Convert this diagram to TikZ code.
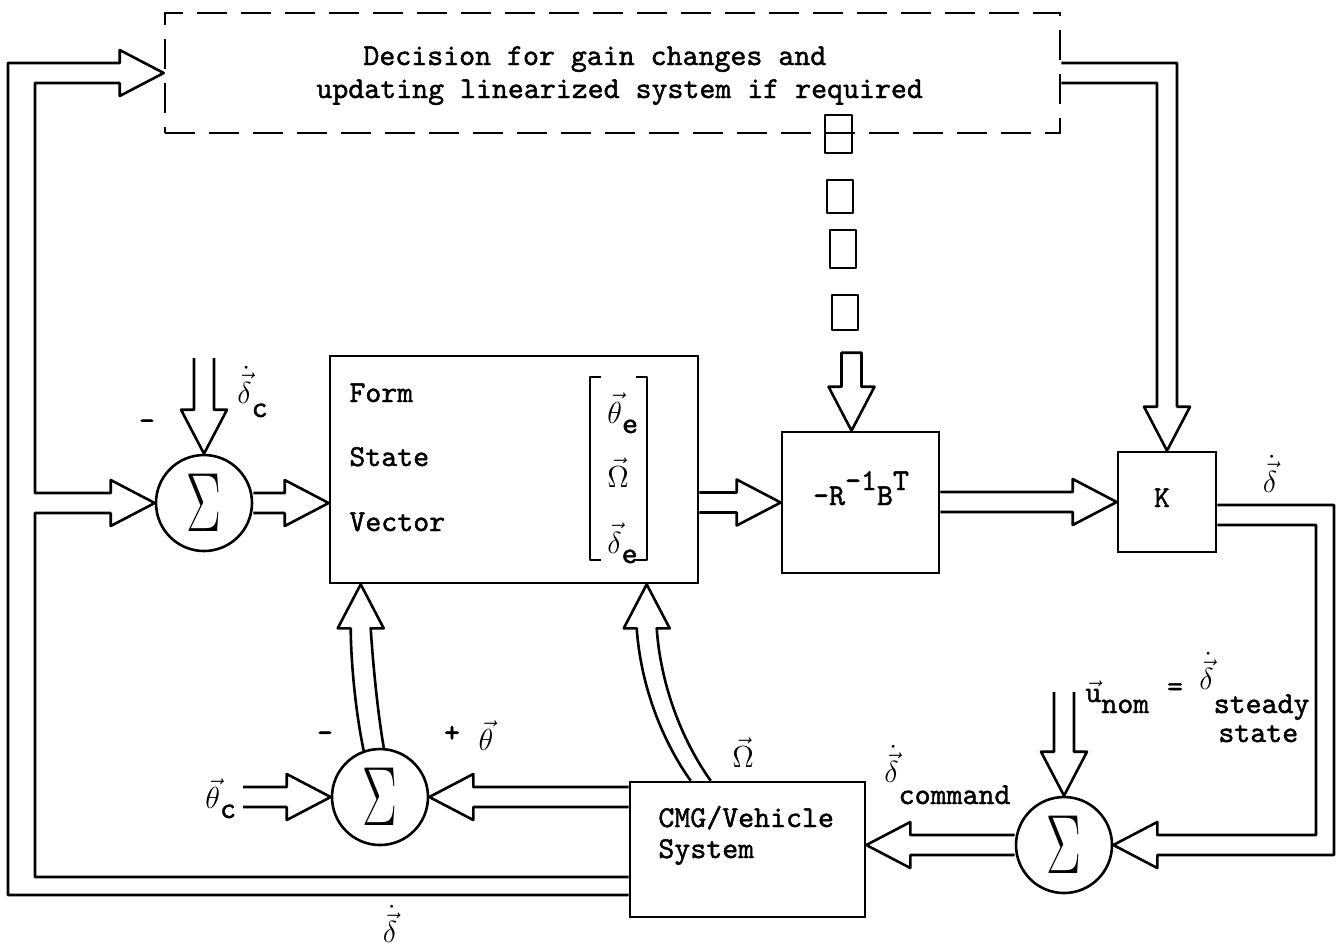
\RequirePackage{fix-cm}
\documentclass[tikz,border=0pt]{standalone}
\usepackage{amsmath}
\usepackage{graphicx}
\usepackage[no-math]{fontspec}
\newfontfamily\tw{lmmono10-regular.otf}[FakeBold=1.4]
\usetikzlibrary{calc,fit}
\newcommand\dSW{10}
\newcommand\dHW{23}
\newcommand\dHL{44}
% hollow double arrows: #1 start reference, #2 tip
\newcommand\arR[2]{\draw[wall] ($(#1|-#2)+(0,-\dSW)$) -- ($(#2)+(-\dHL,-\dSW)$) -- ($(#2)+(-\dHL,-\dHW)$) -- (#2) -- ($(#2)+(-\dHL,\dHW)$) -- ($(#2)+(-\dHL,\dSW)$) -- ($(#1|-#2)+(0,\dSW)$);}
\newcommand\arL[2]{\draw[wall] ($(#1|-#2)+(0,-\dSW)$) -- ($(#2)+(\dHL,-\dSW)$) -- ($(#2)+(\dHL,-\dHW)$) -- (#2) -- ($(#2)+(\dHL,\dHW)$) -- ($(#2)+(\dHL,\dSW)$) -- ($(#1|-#2)+(0,\dSW)$);}
\newcommand\arD[2]{\draw[wall] ($(#2|-#1)+(-\dSW,0)$) -- ($(#2)+(-\dSW,-\dHL)$) -- ($(#2)+(-\dHW,-\dHL)$) -- (#2) -- ($(#2)+(\dHW,-\dHL)$) -- ($(#2)+(\dSW,-\dHL)$) -- ($(#2|-#1)+(\dSW,0)$);}
\begin{document}
\begin{tikzpicture}[x=0.5pt,y=-0.5pt,
  wall/.style={line width=1.3pt,line join=round},
  box/.style={draw,rectangle,line width=1.3pt,inner sep=0pt},
  sumj/.style={draw,circle,line width=1.3pt,minimum size=48pt,inner sep=0pt,font=\fontsize{42}{42}\selectfont},
  every node/.append style={font=\fontsize{15.2}{18}\selectfont\tw},
  lbl/.style={inner sep=0pt}]
\useasboundingbox (0,0) rectangle (1336,950);

% blocks
\node[box,dash pattern=on 15pt off 7pt,fit={(165,13)(1060,133)}] (dec) {};
\node[box,fit={(330,356)(698,583)}] (form) {};
\node[box,fit={(782,432)(939,573)}] (r) {};
\node[box,fit={(1118,452)(1216,552)}] (k) {};
\node[box,fit={(630,782)(865,917)}] (cmg) {};
\node[sumj] (s1) at (204,503) {\scalebox{0.62}[1]{$\Sigma$}};
\node[sumj] (s2) at (380,797) {\scalebox{0.62}[1]{$\Sigma$}};
\node[sumj] (s3) at (1064,845) {\scalebox{0.62}[1]{$\Sigma$}};

% texts
\node[lbl,anchor=base west] (dec1) at (363,65) {Decision for gain changes and};
\node[lbl,anchor=base west] (dec2) at (316,98) {updating linearized system if required};
\node[lbl,anchor=base west] (f1) at (349,402) {Form};
\node[lbl,anchor=base west] (f2) at (349,466) {State};
\node[lbl,anchor=base west] (f3) at (349,531) {Vector};
\node[lbl,anchor=base west] (m1) at (607,423) {$\vec{\theta}$\raisebox{-5pt}{e}};
\node[lbl,anchor=base west] (m2) at (607,487) {$\vec{\Omega}$};
\node[lbl,anchor=base west] (m3) at (607,553) {$\vec{\delta}$\raisebox{-5pt}{e}};
\draw[wall] (601,377) -- (590,377) -- (590,560) -- (601,560);
\draw[wall] (636,377) -- (647,377) -- (647,560) -- (636,560);
\node[lbl,anchor=base] (rt) at (861,505) {-R\raisebox{7.5pt}{-1}B\raisebox{7.5pt}{T}};
\node[lbl,anchor=base] (kt) at (1162,507) {K};
\node[lbl,anchor=base west] (ct1) at (658,827) {CMG/Vehicle};
\node[lbl,anchor=base west] (ct2) at (658,858) {System};

% labels
\node[lbl,anchor=base west] (ldc) at (237,403) {$\dot{\vec{\delta}}$\raisebox{-7pt}{c}};
\node[lbl,anchor=base] (mn1) at (147,430) {-};
\node[lbl,anchor=base] (mn2) at (325,742) {-};
\node[lbl,anchor=base] (pl) at (452,742) {+};
\node[lbl,anchor=base] (lth) at (486,750) {$\vec{\theta}$};
\node[lbl,anchor=base west] (ltc) at (205,808) {$\vec{\theta}$\raisebox{-5pt}{c}};
\node[lbl,anchor=base] (lom) at (743,767) {$\vec{\Omega}$};
\node[lbl,anchor=base] (ldb) at (390,942) {$\dot{\vec{\delta}}$};
\node[lbl,anchor=base] (ldk) at (1270,492) {$\dot{\vec{\delta}}$};
\node[lbl,anchor=base west] (ldcm) at (884,782) {$\dot{\vec{\delta}}$\raisebox{-11pt}{command}};
\node[lbl,anchor=base west] (lun) at (1085,702) {$\vec{\hbox{u}}$\raisebox{-5.5pt}{nom}};
\node[lbl,anchor=base] (leq) at (1175,696) {=};
\node[lbl,anchor=base west] (lss) at (1199,689) {$\dot{\vec{\delta}}$\raisebox{-12pt}{steady}};
\node[lbl,anchor=base west] (lst) at (1218,742) {state};

% coordinates
\coordinate (bo) at (8,895);
\coordinate (bi) at (35,877);
\coordinate (c2) at (204,358);
\coordinate (c3) at (1064,692);
\coordinate (c4) at (243,797);
\coordinate (t1) at (form.west|-s1);
\coordinate (tC) at (cmg.east|-s3);
\coordinate (tR) at ($(r.north)+(-9,0)$);
\coordinate (tF1) at ($(form.south west)+(32,0)$);
\coordinate (tF2) at ($(form.south west)+(318,0)$);
\coordinate (kd) at (k.north|-dec.east);

% left feedback loop (CMG -> decision box and sum 1)
\draw[wall] (cmg.west|-bo) -- (bo) -- (8,63)
  -- ($(dec.west)+(-\dHL,-\dSW)$) -- ($(dec.west)+(-\dHL,-\dHW)$) -- (dec.west)
  -- ($(dec.west)+(-\dHL,\dHW)$) -- ($(dec.west)+(-\dHL,\dSW)$) -- (35,83) -- (35,493)
  -- ($(s1.west)+(-\dHL,-\dSW)$) -- ($(s1.west)+(-\dHL,-\dHW)$) -- (s1.west)
  -- ($(s1.west)+(-\dHL,\dHW)$) -- ($(s1.west)+(-\dHL,\dSW)$) -- (35,513) -- (bi) -- (cmg.west|-bi);

% decision box -> K
\draw[wall] ($(dec.east)+(0,-\dSW)$) -- ($(kd)+(\dSW,-\dSW)$)
  -- ($(k.north)+(\dSW,-\dHL)$) -- ($(k.north)+(\dHW,-\dHL)$) -- (k.north)
  -- ($(k.north)+(-\dHW,-\dHL)$) -- ($(k.north)+(-\dSW,-\dHL)$)
  -- ($(kd)+(-\dSW,\dSW)$) -- ($(dec.east)+(0,\dSW)$);

% K -> sum 3
\draw[wall] ($(k.east)+(0,3)$) -- (1334,505) -- (1334,855)
  -- ($(s3.east)+(\dHL,\dSW)$) -- ($(s3.east)+(\dHL,\dHW)$) -- (s3.east)
  -- ($(s3.east)+(\dHL,-\dHW)$) -- ($(s3.east)+(\dHL,-\dSW)$) -- (1316,835) -- (1316,525)
  -- ($(k.east)+(0,23)$);

% broken arrow decision box -> R
\draw[wall] (825,115) rectangle (852,153);
\draw[wall] (827,180) rectangle (853,213);
\draw[wall] (830,230) rectangle (856,268);
\draw[wall] (832,295) rectangle (858,330);
\draw[wall] ($(tR)+(-\dSW,-\dHL)$) -- ($(tR)+(-\dSW,-78)$) -- ($(tR)+(\dSW,-78)$) -- ($(tR)+(\dSW,-\dHL)$)
  -- ($(tR)+(\dHW,-\dHL)$) -- (tR) -- ($(tR)+(-\dHW,-\dHL)$) -- cycle;

% straight arrows
\arD{c2}{s1.north}
\arR{s1.east}{t1}
\arR{form.east}{r.west}
\arR{r.east}{k.west}
\arD{c3}{s3.north}
\arL{s3.west}{tC}
\arR{c4}{s2.west}
\arL{cmg.west}{s2.east}

% curved arrows into the state-vector box
\draw[wall] ($(s2.center)+(-16,-45)$) .. controls (356,715) and (351,665) .. ($(tF1)+(-\dSW,\dHL)$)
  -- ($(tF1)+(-\dHW,\dHL)$) -- (tF1) -- ($(tF1)+(\dHW,\dHL)$) -- ($(tF1)+(\dSW,\dHL)$)
  .. controls (373,665) and (378,715) .. ($(s2.center)+(4,-48)$);
\draw[wall] ($(cmg.north west)+(62,0)$) .. controls (665,745) and (641,690) .. ($(tF2)+(-\dSW,\dHL)$)
  -- ($(tF2)+(-\dHW,\dHL)$) -- (tF2) -- ($(tF2)+(\dHW,\dHL)$) -- ($(tF2)+(\dSW,\dHL)$)
  .. controls (661,690) and (685,745) .. ($(cmg.north west)+(82,0)$);
\end{tikzpicture}
\end{document}
